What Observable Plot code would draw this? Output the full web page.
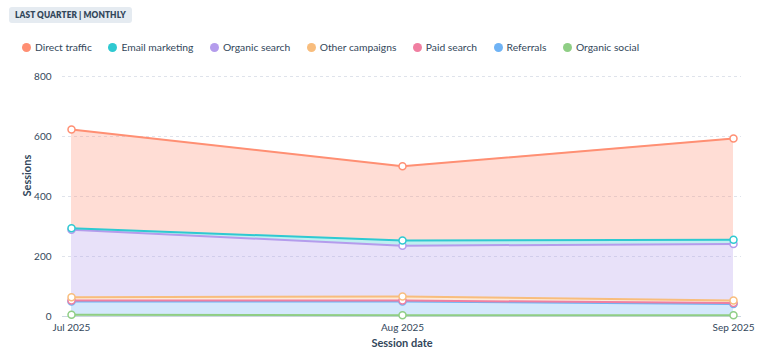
<!DOCTYPE html>
<html><head><meta charset="utf-8">
<script src="https://cdn.jsdelivr.net/npm/d3@7"></script>
<script src="https://cdn.jsdelivr.net/npm/@observablehq/plot@0.6"></script>
<style>
body{margin:0;background:#fff;font-family:Lato,"Open Sans",sans-serif;color:#33475b;width:781px;height:363px;overflow:hidden;}
#badge{position:absolute;left:9px;top:7px;height:16px;line-height:16px;padding:0 6px;background:#e5ebf1;border-radius:3px;font-size:8.3px;font-weight:800;letter-spacing:0.1px;color:#33475b;}
#legend{position:absolute;left:22px;top:39px;height:16px;display:flex;align-items:center;gap:16.5px;font-size:10.3px;color:#33475b;}
#legend .it{display:flex;align-items:center;gap:4px;white-space:nowrap;}
#legend .dot{width:9px;height:9px;border-radius:50%;display:inline-block;}
#chart{position:absolute;left:0;top:60px;}
</style></head><body>
<div id="badge">LAST QUARTER | MONTHLY</div>
<div id="legend"></div>
<div id="chart"></div>
<script>
const months = ["Jul 2025", "Aug 2025", "Sep 2025"];
const legendOrder = ["Direct traffic", "Email marketing", "Organic search", "Other campaigns", "Paid search", "Referrals", "Organic social"];
const colors = ["#ff8f73", "#2fc9d1", "#b49cec", "#f8bd7d", "#f07fa1", "#6fb3f5", "#8fce85"];
const stackOrder = ["Organic social", "Referrals", "Paid search", "Other campaigns", "Organic search", "Email marketing", "Direct traffic"];
const directTraffic = [329, 248, 337];
const emailMarketing = [5, 17, 14];
const organicSearch = [225, 169, 189];
const otherCampaigns = [11, 14, 8];
const paidSearch = [3, 3, 3];
const referrals = [44, 46, 38];
const organicSocial = [6, 4, 4];
const yTicks = [0, 200, 400, 600, 800];

const valuesBySeries = {
  "Direct traffic": directTraffic,
  "Email marketing": emailMarketing,
  "Organic search": organicSearch,
  "Other campaigns": otherCampaigns,
  "Paid search": paidSearch,
  "Referrals": referrals,
  "Organic social": organicSocial
};
const rows = [];
for (const s of stackOrder) months.forEach((m, i) => rows.push({month: m, series: s, value: valuesBySeries[s][i]}));

const leg = document.getElementById("legend");
legendOrder.forEach((s, i) => {
  const it = document.createElement("div"); it.className = "it";
  const d = document.createElement("span"); d.className = "dot"; d.style.background = colors[i];
  const t = document.createElement("span"); t.textContent = s;
  it.append(d, t); leg.append(it);
});

const stackOpts = {x: "month", y: "value", z: "series", order: stackOrder};
const chart = Plot.plot({
  width: 781,
  height: 303,
  marginTop: 16,
  marginBottom: 47,
  marginLeft: 62,
  marginRight: 40,
  style: {fontFamily: "Lato, 'Open Sans', sans-serif", fontSize: "10px", color: "#33475b", background: "transparent"},
  x: {type: "point", domain: months, padding: 0, inset: 8, label: null, tickSize: 0, tickPadding: 7},
  y: {domain: [0, 800], ticks: yTicks, label: null, tickSize: 0, tickPadding: 11},
  color: {domain: legendOrder, range: colors},
  marks: [
    Plot.ruleY(yTicks.slice(1), {stroke: "#dfe3eb", strokeDasharray: "3,3", strokeOpacity: 1}),
    Plot.areaY(rows, Plot.stackY({...stackOpts, fill: "series", fillOpacity: 0.3})),
    Plot.ruleY([0], {stroke: "#cbd6e2"}),
    Plot.lineY(rows, Plot.stackY2({...stackOpts, stroke: "series", strokeWidth: 2})),
    Plot.dot(rows, Plot.stackY2({...stackOpts, stroke: "series", fill: "white", r: 3.5, strokeWidth: 1.5})),
    Plot.text(["Sessions"], {frameAnchor: "left", dx: -35, rotate: -90, fontWeight: 700, fontSize: 11, fill: "#33475b"}),
    Plot.text(["Session date"], {frameAnchor: "bottom", dy: 30, fontWeight: 700, fontSize: 11, fill: "#33475b"})
  ]
});
document.getElementById("chart").append(chart);
</script>
</body></html>
